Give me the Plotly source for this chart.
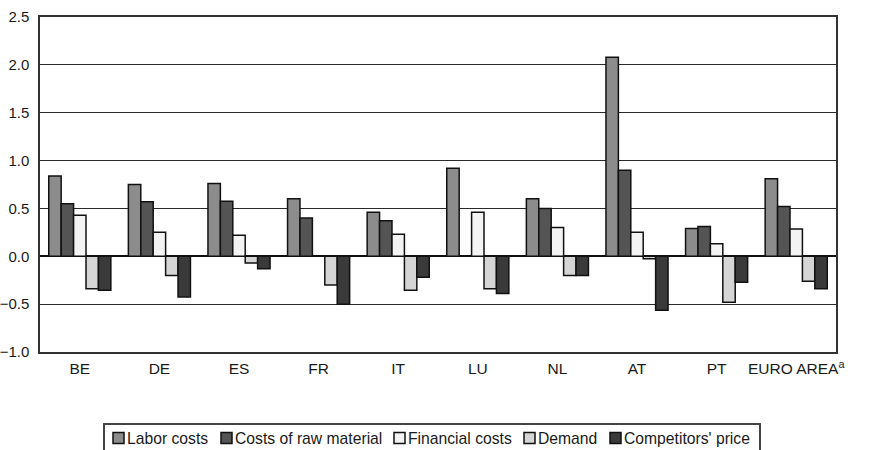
import plotly.graph_objects as go

categories = ["BE", "DE", "ES", "FR", "IT", "LU", "NL", "AT", "PT", "EURO AREA<sup>a</sup>"]
labor_costs = [0.84, 0.75, 0.76, 0.60, 0.46, 0.92, 0.60, 2.08, 0.29, 0.81]
raw_material = [0.55, 0.57, 0.575, 0.40, 0.37, 0.0, 0.50, 0.90, 0.31, 0.52]
financial_costs = [0.43, 0.25, 0.22, 0.0, 0.23, 0.46, 0.30, 0.25, 0.13, 0.285]
demand = [-0.34, -0.20, -0.07, -0.30, -0.355, -0.34, -0.20, -0.025, -0.48, -0.26]
competitors_price = [-0.355, -0.425, -0.13, -0.50, -0.22, -0.39, -0.20, -0.565, -0.27, -0.34]

series_names = ["Labor costs", "Costs of raw material", "Financial costs", "Demand", "Competitors' price"]
series_values = [labor_costs, raw_material, financial_costs, demand, competitors_price]
series_colors = ["#8c8c8c", "#545454", "#f3f3f3", "#d5d5d5", "#3a3a3a"]

# page layout (body margin removed via post_script)
PLOT_L, PLOT_R, PLOT_T, PLOT_B = 40, 836, 17, 352  # window pixels
W, H = 872, 450

def px_x(wx):
    return (wx - PLOT_L) / (PLOT_R - PLOT_L)

def px_y(wy):
    return (PLOT_B - wy) / (PLOT_B - PLOT_T)

fig = go.Figure()
for name, vals, color in zip(series_names, series_values, series_colors):
    fig.add_trace(go.Bar(
        x=categories, y=vals, name=name, showlegend=False,
        marker=dict(color=color, line=dict(color="#111111", width=1.5)),
    ))

# hand-drawn compact legend (squares + text), as in the reference
legend_square_x = [113, 221, 394, 524, 610]
legend_y = 438
shapes = [dict(type="rect", xref="paper", yref="paper",
               x0=px_x(104), x1=px_x(760), y0=px_y(460), y1=px_y(424),
               line=dict(color="#444444", width=2), fillcolor="rgba(0,0,0,0)")]
annotations = []
for name, color, sx in zip(series_names, series_colors, legend_square_x):
    shapes.append(dict(type="rect", xref="paper", yref="paper",
                       x0=px_x(sx), x1=px_x(sx + 11),
                       y0=px_y(legend_y + 5.5), y1=px_y(legend_y - 5.5),
                       line=dict(color="#111111", width=1.5), fillcolor=color))
    annotations.append(dict(xref="paper", yref="paper", x=px_x(sx + 13), y=px_y(legend_y),
                            xanchor="left", yanchor="middle", showarrow=False,
                            text=name, font=dict(size=15.7, color="#1a1a1a"), borderpad=0))

fig.update_layout(
    width=W, height=H,
    margin=dict(l=PLOT_L, r=W - PLOT_R, t=PLOT_T, b=H - PLOT_B),
    paper_bgcolor="white", plot_bgcolor="white",
    barmode="group", bargap=0.22, bargroupgap=0,
    font=dict(family="Liberation Sans, Arial, sans-serif", size=15, color="#1a1a1a"),
    showlegend=False,
    shapes=shapes, annotations=annotations,
    xaxis=dict(
        showline=True, linecolor="#333333", linewidth=1.5, mirror=True,
        ticks="", showgrid=False, tickfont=dict(size=15.5), automargin=False,
        ticklabelstandoff=2,
    ),
    yaxis=dict(
        range=[-1.0, 2.5], dtick=0.5, tick0=0, tickformat=".1f",
        showgrid=True, gridcolor="#2a2a2a", gridwidth=1.4,
        zeroline=True, zerolinecolor="#111111", zerolinewidth=1.5,
        showline=True, linecolor="#333333", linewidth=1.5, mirror=True,
        ticks="", tickfont=dict(size=15), ticklabelstandoff=6, automargin=False,
    ),
)

fig.write_html("out.html", config={"displayModeBar": False},
               post_script="document.body.style.margin='0';")
